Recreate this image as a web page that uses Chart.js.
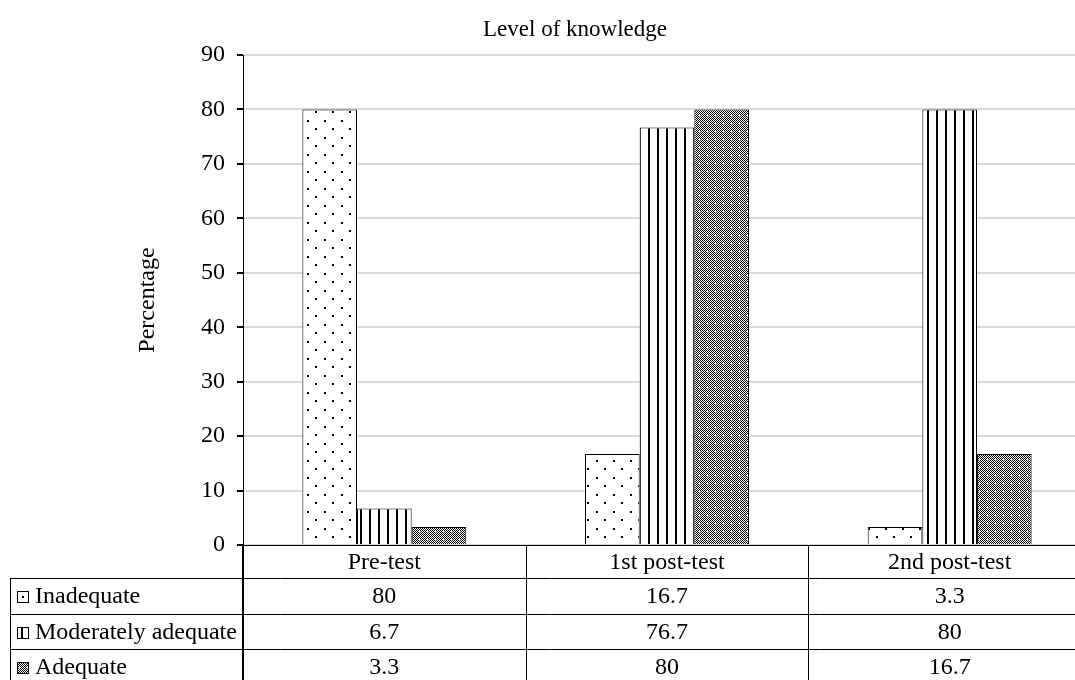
<!DOCTYPE html>
<html>
<head>
<meta charset="utf-8">
<script src="https://cdn.jsdelivr.net/npm/chart.js@4"></script>
<style>
  body { margin: 0; background: #fff; overflow: hidden; }
  #wrap { width: 1075px; height: 680px; overflow: hidden; }
</style>
</head>
<body>
<div id="wrap">
  <!-- plot runs a little past the right edge, as in the source picture -->
  <canvas id="knowledgeChart" width="1091" height="680"></canvas>
</div>
<script>
// chart data
const categories = ['Pre-test', '1st post-test', '2nd post-test'];
const seriesNames = ['Inadequate', 'Moderately adequate', 'Adequate'];
const inadequate = [80, 16.7, 3.3];
const moderatelyAdequate = [6.7, 76.7, 80];
const adequate = [3.3, 80, 16.7];
const yTicks = [0, 10, 20, 30, 40, 50, 60, 70, 80, 90];

const FONT = "'Liberation Serif', 'Times New Roman', serif";

// pattern helpers
function makePattern(w, h, draw) {
    const c = document.createElement('canvas');
    c.width = w;
    c.height = h;
    const p = c.getContext('2d');
    p.fillStyle = '#fff';
    p.fillRect(0, 0, w, h);
    draw(p);
    return document.getElementById('knowledgeChart').getContext('2d').createPattern(c, 'repeat');
}

const dotsPattern = makePattern(17, 17, function(p) {
    p.fillStyle = '#000';
    p.fillRect(1, 1, 2, 2);
    p.fillRect(9, 9, 2, 2);
});

const stripePattern = makePattern(9, 9, function(p) {
    p.fillStyle = '#000';
    p.fillRect(0, 0, 2, 9);
});

const checkPattern = makePattern(8, 8, function(p) {
    p.fillStyle = '#000';
    for (let x = 0; x < 8; x++) {
        for (let y = 0; y < 8; y++) {
            if ((x + y) % 2 === 0) p.fillRect(x, y, 1, 1);
        }
    }
    // small white cross
    p.fillStyle = '#fff';
    p.fillRect(2, 3, 3, 1);
    p.fillRect(3, 2, 1, 3);
});

const patterns = [dotsPattern, stripePattern, checkPattern];
const seriesData = [inadequate, moderatelyAdequate, adequate];

// small legend keys in the table
function drawKey(ctx, s, x, y) {
    ctx.fillStyle = '#fff';
    ctx.fillRect(x, y, 12, 12);
    if (s === 0) {
        ctx.fillStyle = '#000';
        ctx.fillRect(x + 5, y + 5, 2, 2);
    } else if (s === 1) {
        ctx.fillStyle = '#000';
        ctx.fillRect(x + 4, y, 2, 12);
    } else {
        ctx.fillStyle = patterns[2];
        ctx.fillRect(x, y, 12, 12);
    }
    ctx.strokeStyle = '#000';
    ctx.lineWidth = 1;
    ctx.strokeRect(x + 0.5, y + 0.5, 11, 11);
}

// draws the title, axis title and the data table under the plot
const tablePlugin = {
    id: 'tablePlugin',
    afterDraw: function(chart) {
        const ctx = chart.ctx;
        const area = chart.chartArea;
        const xs = chart.scales.x;
        const half = (xs.getPixelForValue(1) - xs.getPixelForValue(0)) / 2;
        const rowTops = [area.bottom, 578, 614, 649, 685];
        const tableLeft = 10;

        ctx.save();
        ctx.fillStyle = '#000';
        ctx.textBaseline = 'middle';

        // chart title
        ctx.font = '23px ' + FONT;
        ctx.textAlign = 'center';
        ctx.fillText('Level of knowledge', 575, 30);

        // y axis title
        ctx.save();
        ctx.translate(148, 300);
        ctx.rotate(-Math.PI / 2);
        ctx.font = '24px ' + FONT;
        ctx.fillText('Percentage', 0, 0);
        ctx.restore();

        // table lines
        ctx.strokeStyle = '#000';
        ctx.lineWidth = 1;
        ctx.beginPath();
        ctx.moveTo(area.left, area.bottom + 0.5);
        ctx.lineTo(area.right, area.bottom + 0.5);
        for (let r = 1; r < 4; r++) {
            ctx.moveTo(tableLeft, rowTops[r] + 0.5);
            ctx.lineTo(area.right, rowTops[r] + 0.5);
        }
        ctx.moveTo(tableLeft + 0.5, rowTops[1]);
        ctx.lineTo(tableLeft + 0.5, 680);
        ctx.stroke();

        ctx.lineWidth = 2;
        ctx.beginPath();
        ctx.moveTo(area.left, area.bottom);
        ctx.lineTo(area.left, 680);
        ctx.stroke();

        ctx.lineWidth = 1;
        ctx.beginPath();
        for (let i = 0; i < categories.length - 1; i++) {
            const xb = Math.round(xs.getPixelForValue(i) + half) + 0.5;
            ctx.moveTo(xb, area.bottom);
            ctx.lineTo(xb, 680);
        }
        ctx.stroke();

        // category header row
        ctx.font = '24px ' + FONT;
        ctx.textAlign = 'center';
        categories.forEach(function(cat, i) {
            ctx.fillText(cat, xs.getPixelForValue(i), (rowTops[0] + rowTops[1]) / 2 + 1);
        });

        // series rows
        seriesNames.forEach(function(name, s) {
            const yMid = (rowTops[s + 1] + rowTops[s + 2]) / 2 + 1;
            drawKey(ctx, s, 17, Math.round(yMid - 6));
            ctx.fillStyle = '#000';
            ctx.textAlign = 'left';
            ctx.fillText(name, 35, yMid);
            ctx.textAlign = 'center';
            seriesData[s].forEach(function(v, i) {
                ctx.fillText(String(v), xs.getPixelForValue(i), yMid);
            });
        });
        ctx.restore();
    }
};

const ctx = document.getElementById('knowledgeChart').getContext('2d');
new Chart(ctx, {
    type: 'bar',
    data: {
        labels: categories,
        datasets: seriesNames.map(function(name, s) {
            return {
                label: name,
                data: seriesData[s],
                backgroundColor: patterns[s],
                borderColor: '#000',
                borderWidth: 1,
                borderSkipped: 'bottom',
                categoryPercentage: 0.58,
                barPercentage: 1
            };
        })
    },
    options: {
        responsive: false,
        animation: false,
        layout: {
            padding: { top: 55, left: 130, right: 0, bottom: 135 }
        },
        scales: {
            x: {
                display: false
            },
            y: {
                min: 0,
                max: 90,
                afterFit: function(scale) {
                    scale.width = 113;
                },
                afterBuildTicks: function(scale) {
                    scale.ticks = yTicks.map(function(v) { return { value: v }; });
                },
                border: { color: '#000', width: 1 },
                grid: {
                    color: '#d9d9d9',
                    lineWidth: 2,
                    tickColor: '#000',
                    tickLength: 6
                },
                ticks: {
                    color: '#000',
                    padding: 12,
                    font: { family: FONT, size: 24 }
                }
            }
        },
        plugins: {
            legend: { display: false },
            title: { display: false },
            tooltip: { enabled: false }
        }
    },
    plugins: [tablePlugin]
});
</script>
</body>
</html>
